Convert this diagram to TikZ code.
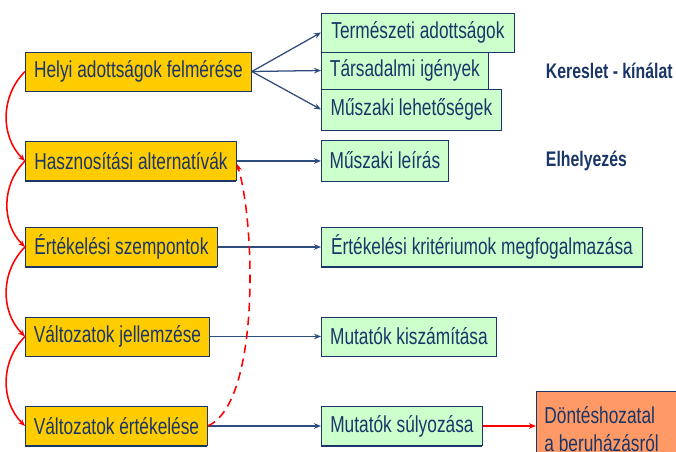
\documentclass[tikz,border=0pt]{standalone}
\usepackage{fontspec}
\setmainfont{Liberation Sans}[FakeStretch=0.75]
\usetikzlibrary{arrows.meta,shadows}
\definecolor{navy}{HTML}{1A3668}
\definecolor{conncol}{HTML}{2E4C7E}
\definecolor{gold}{HTML}{FFCC00}
\definecolor{mint}{HTML}{CCFFCC}
\definecolor{salmon}{HTML}{FF9966}
\begin{document}
\begin{tikzpicture}[x=0.025cm,y=-0.025cm,
  every node/.style={font=\fontsize{16.4}{19}\selectfont, text=navy},
  box/.style={draw=navy, line width=0.6pt, anchor=west, inner sep=0pt,
    minimum height=0.975cm, drop shadow={shadow xshift=0pt, shadow yshift=-1pt, fill=navy, opacity=1}},
  obox/.style={box, fill=gold},
  gbox/.style={box, fill=mint},
  conn/.style={draw=conncol, line width=0.9pt, -{Stealth[length=5pt,width=4pt]}},
  flow/.style={draw=red, line width=1.1pt, -{Stealth[length=5pt,width=4pt]}},
  loopback/.style={flow, dash pattern=on 6pt off 4pt}]
\useasboundingbox (0,0) rectangle (676,452);
\clip (0,0) rectangle (676,452);
% left column
\node[obox, minimum width=5.65cm] (hf) at (25,71.5) {Helyi adottságok felmérése};
\node[obox, minimum width=5.275cm] (ha) at (25,161) {Hasznosítási alternatívák};
\node[obox, minimum width=4.8cm] (esz) at (25,247) {Értékelési szempontok};
\node[obox, minimum width=4.6cm] (vj) at (25,336.5) {Változatok jellemzése};
\node[obox, minimum width=4.55cm] (ve) at (25,426) {Változatok értékelése};
% right column
\node[gbox, minimum width=4.825cm] (gt) at (321,32.5) {Természeti adottságok};
\node[gbox, minimum width=4.175cm, minimum height=0.925cm] (gs) at (321,70.5) {Társadalmi igények};
\node[gbox, minimum width=4.5cm, minimum height=1.025cm] (gm) at (321,109.5) {Műszaki lehetőségek};
\node[gbox, minimum width=3.175cm, minimum height=1.025cm] (gl) at (321,160.5) {Műszaki leírás};
\node[gbox, minimum width=8.025cm] (gk) at (321,247) {Értékelési kritériumok megfogalmazása};
\node[gbox, minimum width=4.375cm] (gmk) at (321,336.5) {Mutatók kiszámítása};
\node[gbox, minimum width=4.025cm] (gms) at (321,426) {Mutatók súlyozása};
\node[box, fill=salmon, anchor=north west, minimum width=3.8cm, minimum height=1.9cm,
  align=left, inner xsep=0.2cm, inner ysep=0.1cm,
  font=\fontsize{16.4}{19.8}\selectfont] (dh) at (536,391) {Döntéshozatal\\a beruházásról\hspace*{1.2cm}};
% side labels
\node[anchor=west, font=\bfseries\fontsize{15}{17}\selectfont] (kk) at (541,71) {Kereslet - kínálat};
\node[anchor=west, font=\bfseries\fontsize{15}{17}\selectfont] (el) at (541,161) {Elhelyezés};
% connectors
\draw[conn] (hf.east) to (gt.west);
\draw[conn] (hf.east) to (gs.west);
\draw[conn] (hf.east) to (gm.west);
\draw[conn] (ha.east) to (ha.east -| gl.west);
\draw[conn] (esz.east) to (gk.west);
\draw[conn] (vj.east) to (gmk.west);
\draw[conn] (ve.east) to (gms.west);
\draw[flow] (gms.east) to (gms.east -| dh.west);
% red chain on the left
\draw[flow] (hf.west) to[out=225,in=135] (ha.west);
\draw[flow] (ha.west) to[out=225,in=135] (esz.west);
\draw[flow] (esz.west) to[out=225,in=135] (vj.west);
\draw[flow] (vj.west) to[out=225,in=135] (ve.west);
\draw[loopback] (ve.east) .. controls +(53,-24) and +(18,57) .. ([yshift=-2]ha.east);
\end{tikzpicture}
\end{document}
